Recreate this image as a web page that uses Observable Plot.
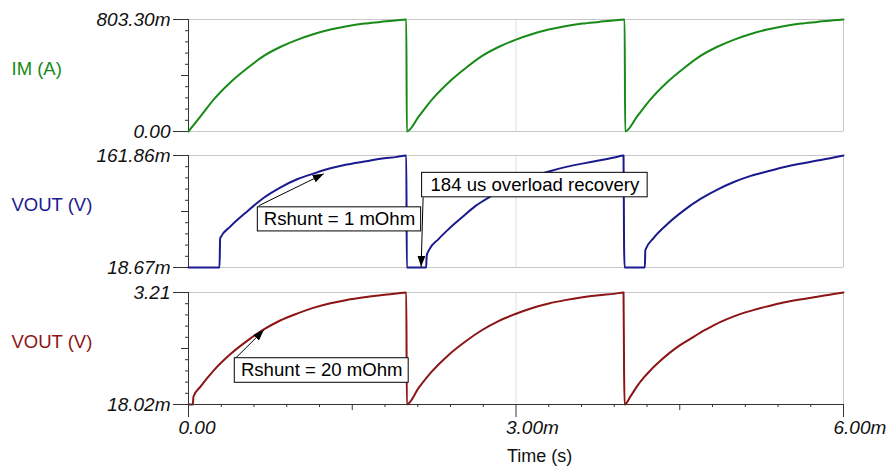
<!DOCTYPE html>
<html>
<head>
<meta charset="utf-8">
<script src="https://cdn.jsdelivr.net/npm/d3@7"></script>
<script src="https://cdn.jsdelivr.net/npm/@observablehq/plot@0.6"></script>
<style>
  body { margin: 0; background: #fff; }
  #chart { position: relative; width: 886px; height: 471px; background: #fff; }
  #chart svg { display: block; overflow: visible; }
  #chart [aria-label="y-axis tick label"] { font-style: italic; }
</style>
</head>
<body>
<div id="chart"></div>
<script>
// ---- time axis (ms) ----
const xTicks = [0, 3, 6];
const xTickLabels = ["0.00", "3.00m", "6.00m"];
const xLabel = "Time (s)";

// ---- IM (A) ----
const imName = "IM (A)";
const imTicks = [0, 0.8033];
const imTickLabels = ["0.00", "803.30m"];
const imTime = [0, 0.11, 0.23, 0.385, 0.54, 0.69, 0.84, 1.0, 1.15, 1.30, 1.45, 1.61, 1.76, 1.91, 1.995,
  2.0, 2.11, 2.23, 2.385, 2.54, 2.69, 2.84, 3.0, 3.15, 3.30, 3.45, 3.61, 3.76, 3.91, 3.995,
  4.0, 4.11, 4.23, 4.385, 4.54, 4.69, 4.84, 5.0, 5.15, 5.30, 5.45, 5.61, 5.76, 5.91, 6.0];
const imValue = [0, 0.108, 0.228, 0.353, 0.455, 0.542, 0.606, 0.659, 0.699, 0.731, 0.755, 0.774, 0.786, 0.798, 0.8033,
  0, 0.108, 0.228, 0.353, 0.455, 0.542, 0.606, 0.659, 0.699, 0.731, 0.755, 0.774, 0.786, 0.798, 0.8033,
  0, 0.108, 0.228, 0.353, 0.455, 0.542, 0.606, 0.659, 0.699, 0.731, 0.755, 0.774, 0.786, 0.798, 0.8033];

// ---- VOUT (V), Rshunt = 1 mOhm ----
const v1Name = "VOUT (V)";
const v1Ticks = [0.01867, 0.16186];
const v1TickLabels = ["18.67m", "161.86m"];
const v1Time = [0, 0.284, 0.29, 0.385, 0.54, 0.69, 0.84, 1.0, 1.15, 1.30, 1.45, 1.61, 1.76, 1.91, 1.995,
  2.0, 2.177, 2.182, 2.20, 2.29, 2.384, 2.506, 2.63, 2.70, 2.85, 3.0, 3.15, 3.31, 3.46, 3.62, 3.77, 3.90, 3.985,
  3.99, 3.995, 4.18, 4.185, 4.26, 4.38, 4.535, 4.69, 4.84, 4.99, 5.15, 5.30, 5.45, 5.60, 5.76, 5.91, 6.0];
const v1Value = [0.01867, 0.01867, 0.0562, 0.0712, 0.0907, 0.1079, 0.1209, 0.1318, 0.1390, 0.1455, 0.1503, 0.1541, 0.1576, 0.1601, 0.16186,
  0.01867, 0.01867, 0.0337, 0.0402, 0.0550, 0.0679, 0.0828, 0.0974, 0.1039, 0.1160, 0.1261, 0.1347, 0.1418, 0.1473, 0.1518, 0.1557, 0.1593, 0.16186,
  0.0459, 0.01867, 0.01867, 0.0410, 0.0563, 0.0734, 0.0914, 0.1063, 0.1179, 0.1276, 0.1358, 0.1414, 0.1468, 0.1513, 0.1554, 0.1593, 0.16186];

// ---- VOUT (V), Rshunt = 20 mOhm ----
const v2Name = "VOUT (V)";
const v2Ticks = [0.01802, 3.21];
const v2TickLabels = ["18.02m", "3.21"];
const v2Time = [0, 0.04, 0.045, 0.11, 0.23, 0.385, 0.54, 0.69, 0.84, 1.0, 1.15, 1.30, 1.45, 1.61, 1.76, 1.91, 1.995,
  2.0, 2.11, 2.23, 2.385, 2.54, 2.69, 2.84, 3.0, 3.15, 3.30, 3.45, 3.61, 3.76, 3.91, 3.985,
  3.99, 3.995, 4.05, 4.11, 4.17, 4.23, 4.32, 4.41, 4.50, 4.60, 4.69, 4.78, 4.87, 4.99, 5.15, 5.30, 5.45, 5.60, 5.76, 5.91, 6.0];
const v2Value = [0.01802, 0.01802, 0.2383, 0.5287, 0.9852, 1.4544, 1.8375, 2.1567, 2.412, 2.6163, 2.7791, 2.9036, 2.9993, 3.0759, 3.1334, 3.1813, 3.21,
  0.01802, 0.4968, 0.9597, 1.4385, 1.8215, 2.1407, 2.3961, 2.6035, 2.7695, 2.8972, 2.993, 3.0727, 3.1302, 3.1781, 3.21,
  0.9756, 0.01802, 0.2574, 0.5415, 0.7809, 0.9884, 1.2565, 1.4959, 1.7034, 1.8949, 2.0672, 2.2205, 2.3641, 2.5237, 2.6865, 2.811, 2.9227, 3.0089, 3.0887, 3.1685, 3.21];

// ---- annotations (data units: ms, V) ----
const note1Text = ["Rshunt = 1 mOhm"];
const note1Box = [0.635, 2.131, 0.0648, 0.0956];      // x1, x2, y1, y2
const note1Arrow = [0.644, 0.0977, 1.239, 0.1384];   // from x, y -> to x, y
const note2Text = ["184 us overload recovery"];
const note2Box = [2.140, 4.206, 0.1084, 0.1397];
const note2Arrow = [2.149, 0.1084, 2.131, 0.0195];
const note3Text = ["Rshunt = 20 mOhm"];
const note3Box = [0.424, 2.017, 0.637, 1.3365];
const note3Arrow = [0.430, 1.3365, 0.690, 2.140];

const FONT = "'Liberation Sans', Arial, Helvetica, sans-serif";
const AXIS = "#333";

function filledArrow() {
  const ns = "http://www.w3.org/2000/svg";
  const m = document.createElementNS(ns, "marker");
  m.setAttribute("viewBox", "-11 -4 11 8");
  m.setAttribute("markerWidth", "11");
  m.setAttribute("markerHeight", "8");
  m.setAttribute("markerUnits", "userSpaceOnUse");
  m.setAttribute("orient", "auto");
  m.setAttribute("refX", "0");
  m.setAttribute("refY", "0");
  const p = document.createElementNS(ns, "path");
  p.setAttribute("d", "M-11,-4L0,0L-11,4Z");
  p.setAttribute("fill", "black");
  p.setAttribute("stroke", "none");
  m.appendChild(p);
  return m;
}

function noteMarks(texts, box, arrow) {
  return [
    Plot.link([arrow], {x1: d => d[0], y1: d => d[1], x2: d => d[2], y2: d => d[3], stroke: "black", strokeWidth: 1, markerEnd: filledArrow}),
    Plot.rect([box], {x1: d => d[0], x2: d => d[1], y1: d => d[2], y2: d => d[3], fill: "white", stroke: "black", strokeWidth: 1}),
    Plot.text(texts, {x: () => (box[0] + box[1]) / 2, y: () => (box[2] + box[3]) / 2, text: d => d, fontSize: 18.6, fill: "black"})
  ];
}

function panel(o) {
  const [lo, hi] = o.domain;
  const minor = d3.range(1, 10).filter(i => i !== 5).map(i => lo + i * (hi - lo) / 10);
  const mid = [lo + (hi - lo) / 2];
  const fmt = new Map(o.ticks.map((d, i) => [d, o.labels[i]]));
  const table = o.time.map((t, i) => ({t, v: o.value[i]}));
  const marks = [
    Plot.ruleX([3], {stroke: "#e0e0e0", strokeWidth: 1}),
    Plot.ruleX([6], {stroke: "#c8c8c8", strokeWidth: 1}),
    Plot.ruleY(o.domain, {stroke: "#c8c8c8", strokeWidth: 1}),
    Plot.axisY(minor, {tickSize: 3, stroke: AXIS, tickFormat: () => "", label: null}),
    Plot.axisY(mid, {tickSize: 7, stroke: AXIS, tickFormat: () => "", label: null}),
    Plot.axisY(o.ticks, {tickSize: 15, tickPadding: 3, stroke: AXIS, fill: "#111", tickFormat: d => fmt.get(d), fontSize: 19, fontStyle: "italic", label: null}),
    Plot.ruleX([0], {stroke: AXIS, strokeWidth: 1}),
    Plot.text([o.name], {text: d => d, frameAnchor: "left", dx: -177, dy: -6, textAnchor: "start", fill: o.color, fontSize: 18.5}),
    Plot.line(table, {x: "t", y: "v", stroke: o.color, strokeWidth: 2, curve: "monotone-x"}),
    ...(o.notes || [])
  ];
  if (o.xAxis) {
    const minorX = d3.range(1, 20).filter(i => i % 5 !== 0).map(i => i * 0.3);
    marks.push(
      Plot.ruleY([lo], {stroke: AXIS, strokeWidth: 1}),
      Plot.axisX(minorX, {tickSize: 3, stroke: AXIS, tickFormat: () => "", label: null}),
      Plot.axisX([1.5, 4.5], {tickSize: 6, stroke: AXIS, tickFormat: () => "", label: null}),
      Plot.axisX(xTicks, {tickSize: 13, stroke: AXIS, tickFormat: () => "", label: null}),
      Plot.text(xTicks, {x: d => d, text: (d, i) => xTickLabels[i], frameAnchor: "bottom", dy: 29, dx: -10, textAnchor: "start", fontStyle: "italic", fontSize: 19, fill: "#111"}),
      Plot.text([xLabel], {x: () => 3, text: d => d, frameAnchor: "bottom", dy: 57, dx: -9, textAnchor: "start", fontSize: 18, fill: "#111"})
    );
  }
  return Plot.plot({
    width: 886,
    height: o.marginTop + 112 + o.marginBottom,
    marginLeft: 188,
    marginRight: 43,
    marginTop: o.marginTop,
    marginBottom: o.marginBottom,
    x: {domain: [0, 6], axis: o.xAxis ? undefined : null},
    y: {domain: o.domain},
    style: {fontFamily: FONT, fontSize: "18px", background: "transparent", color: "#111", overflow: "visible"},
    marks
  });
}

const chart = document.getElementById("chart");
chart.appendChild(panel({
  time: imTime, value: imValue, color: "#178a17", domain: imTicks, ticks: imTicks, labels: imTickLabels,
  name: imName, marginTop: 19, marginBottom: 5
}));
chart.appendChild(panel({
  time: v1Time, value: v1Value, color: "#1a1a8e", domain: v1Ticks, ticks: v1Ticks, labels: v1TickLabels,
  name: v1Name, marginTop: 19, marginBottom: 5,
  notes: [...noteMarks(note1Text, note1Box, note1Arrow), ...noteMarks(note2Text, note2Box, note2Arrow)]
}));
chart.appendChild(panel({
  time: v2Time, value: v2Value, color: "#8c1414", domain: v2Ticks, ticks: v2Ticks, labels: v2TickLabels,
  name: v2Name, marginTop: 20, marginBottom: 67, xAxis: true,
  notes: noteMarks(note3Text, note3Box, note3Arrow)
}));
</script>
</body>
</html>
